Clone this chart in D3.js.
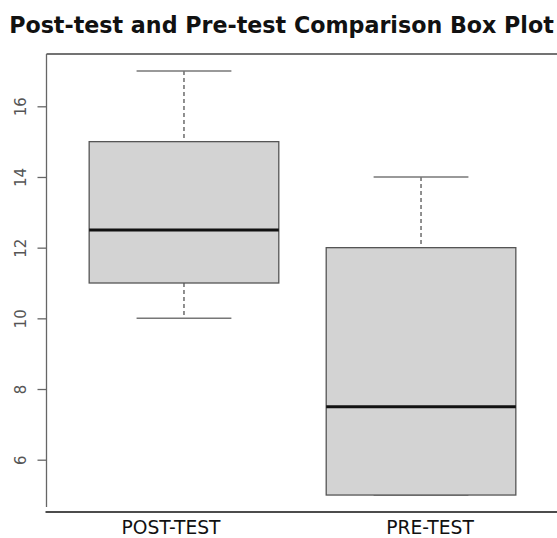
<!DOCTYPE html>
<html>
<head>
<meta charset="utf-8">
<script src="https://cdn.jsdelivr.net/npm/d3@7"></script>
<style>
  body { margin: 0; background: #fff; }
  svg { display: block; font-family: "DejaVu Sans", sans-serif; }
</style>
</head>
<body>
<div id="chart"></div>
<script>
const groups = ["POST-TEST", "PRE-TEST"];
const mins = [10, 5];
const q1s = [11, 5];
const medians = [12.5, 7.5];
const q3s = [15, 12];
const maxs = [17, 14];
const yTicks = [6, 8, 10, 12, 14, 16];

const width = 557;
const height = 538;

const boxes = groups.map((g, i) => ({
  name: g,
  pos: i + 1,
  min: mins[i],
  q1: q1s[i],
  median: medians[i],
  q3: q3s[i],
  max: maxs[i],
}));

const svg = d3
  .select("#chart")
  .append("svg")
  .attr("width", width)
  .attr("height", height);

// R-style ranges: 0.5 .. n+0.5 widened by 4%
const x = d3.scaleLinear().domain([0.42, 2.58]).range([46.5, 558.5]);
const y = d3.scaleLinear().domain([4.52, 17.48]).range([512, 54]);
// category labels sit a little wider apart than the boxes in the original
const xLabel = d3.scaleLinear().domain([1, 2]).range([171, 430]);
const half = 0.4;

svg
  .append("text")
  .attr("x", 281.5)
  .attr("y", 33)
  .attr("text-anchor", "middle")
  .attr("font-weight", "bold")
  .attr("font-size", 22.2)
  .attr("fill", "#111")
  .text("Post-test and Pre-test Comparison Box Plot");

const g = svg.selectAll("g.box").data(boxes).join("g").attr("class", "box");

// whiskers
g.append("line")
  .attr("x1", (d) => x(d.pos))
  .attr("x2", (d) => x(d.pos))
  .attr("y1", (d) => y(d.max))
  .attr("y2", (d) => y(d.q3))
  .attr("stroke", "#555")
  .attr("stroke-width", 1.3)
  .attr("stroke-dasharray", "4,3");

g.append("line")
  .attr("x1", (d) => x(d.pos))
  .attr("x2", (d) => x(d.pos))
  .attr("y1", (d) => y(d.q1))
  .attr("y2", (d) => y(d.min))
  .attr("stroke", "#555")
  .attr("stroke-width", 1.3)
  .attr("stroke-dasharray", "4,3");

// caps
g.append("line")
  .attr("x1", (d) => x(d.pos - half / 2))
  .attr("x2", (d) => x(d.pos + half / 2))
  .attr("y1", (d) => y(d.max))
  .attr("y2", (d) => y(d.max))
  .attr("stroke", "#777")
  .attr("stroke-width", 1.5);

g.append("line")
  .attr("x1", (d) => x(d.pos - half / 2))
  .attr("x2", (d) => x(d.pos + half / 2))
  .attr("y1", (d) => y(d.min))
  .attr("y2", (d) => y(d.min))
  .attr("stroke", "#777")
  .attr("stroke-width", 1.5);

// box
g.append("rect")
  .attr("x", (d) => x(d.pos - half))
  .attr("width", (d) => x(d.pos + half) - x(d.pos - half))
  .attr("y", (d) => y(d.q3))
  .attr("height", (d) => y(d.q1) - y(d.q3))
  .attr("fill", "#d3d3d3")
  .attr("stroke", "#555")
  .attr("stroke-width", 1.3);

// median
g.append("line")
  .attr("x1", (d) => x(d.pos - half))
  .attr("x2", (d) => x(d.pos + half))
  .attr("y1", (d) => y(d.median))
  .attr("y2", (d) => y(d.median))
  .attr("stroke", "#111")
  .attr("stroke-width", 3);

// frame: top, left, bottom
const [x0, x1] = x.range();
const [yb, yt] = y.range();
svg.append("line")
  .attr("x1", x0).attr("x2", x1).attr("y1", yt).attr("y2", yt)
  .attr("stroke", "#444").attr("stroke-width", 1.3);
svg.append("line")
  .attr("x1", x0).attr("x2", x0).attr("y1", yt).attr("y2", yb - 5)
  .attr("stroke", "#666").attr("stroke-width", 1.3);
svg.append("line")
  .attr("x1", x0 - 1).attr("x2", x1).attr("y1", yb).attr("y2", yb)
  .attr("stroke", "#111").attr("stroke-width", 1.5);

// y axis
const yAxis = svg
  .append("g")
  .attr("transform", `translate(${x0},0)`)
  .call(d3.axisLeft(y).tickValues(yTicks).tickSize(9).tickFormat(d3.format("d")));
yAxis.select(".domain").remove();
yAxis.selectAll(".tick line").attr("stroke", "#666").attr("stroke-width", 1.3);
yAxis
  .selectAll(".tick text")
  .attr("x", 0)
  .attr("y", -21)
  .attr("dy", 0)
  .attr("text-anchor", "middle")
  .attr("transform", "rotate(-90)")
  .attr("font-size", 15)
  .attr("font-family", "DejaVu Sans, sans-serif")
  .attr("fill", "#555");

// x labels
svg
  .selectAll("text.xlab")
  .data(boxes)
  .join("text")
  .attr("class", "xlab")
  .attr("x", (d) => xLabel(d.pos))
  .attr("y", 534)
  .attr("text-anchor", "middle")
  .attr("font-size", 18.7)
  .attr("fill", "#111")
  .text((d) => d.name);
</script>
</body>
</html>
